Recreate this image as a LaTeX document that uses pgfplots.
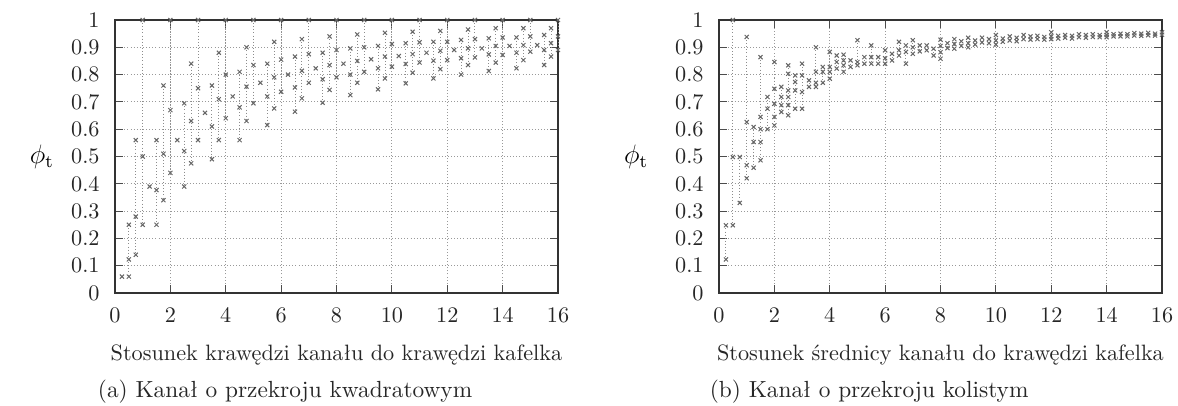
\documentclass[border=0pt]{standalone}
\usepackage{fontspec}
\usepackage{pgfplots}
\usepackage{pgfplotstable}
\pgfplotsset{compat=1.18}

\pgfplotstableread{
x y
0.25 0.06
nan nan
0.5 0.25
0.5 0.123
0.5 0.06
nan nan
0.75 0.56
0.75 0.28
0.75 0.14
nan nan
1.0 1.0
1.0 0.50
1.0 0.25
nan nan
1.25 0.39
nan nan
1.5 0.56
1.5 0.377
1.5 0.25
nan nan
1.75 0.76
1.75 0.51
1.75 0.34
nan nan
2.0 1.0
2.0 0.67
2.0 0.44
nan nan
2.25 0.56
nan nan
2.5 0.695
2.5 0.52
2.5 0.39
nan nan
2.75 0.84
2.75 0.63
2.75 0.475
nan nan
3.0 1.0
3.0 0.75
3.0 0.56
nan nan
3.25 0.66
nan nan
3.5 0.76
3.5 0.61
3.5 0.49
nan nan
3.75 0.88
3.75 0.71
3.75 0.56
nan nan
4.0 1.0
4.0 0.80
4.0 0.64
nan nan
4.25 0.72
nan nan
4.5 0.81
4.5 0.68
4.5 0.56
nan nan
4.75 0.90
4.75 0.756
4.75 0.63
nan nan
5.0 1.0
5.0 0.835
5.0 0.695
nan nan
5.25 0.77
nan nan
5.5 0.84
5.5 0.72
5.5 0.615
nan nan
5.75 0.92
5.75 0.79
5.75 0.676
nan nan
6.0 1.0
6.0 0.855
6.0 0.737
nan nan
6.25 0.80
nan nan
6.5 0.866
6.5 0.753
6.5 0.664
nan nan
6.75 0.93
6.75 0.814
6.75 0.713
nan nan
7.0 1.0
7.0 0.875
7.0 0.77
nan nan
7.25 0.823
nan nan
7.5 0.88
7.5 0.783
7.5 0.697
nan nan
7.75 0.94
7.75 0.835
7.75 0.744
nan nan
8.0 1.0
8.0 0.89
8.0 0.79
nan nan
8.25 0.84
nan nan
8.5 0.896
8.5 0.80
8.5 0.725
nan nan
8.75 0.947
8.75 0.85
8.75 0.77
nan nan
9.0 1.0
9.0 0.90
9.0 0.81
nan nan
9.25 0.856
nan nan
9.5 0.905
9.5 0.823
9.5 0.746
nan nan
9.75 0.953
9.75 0.866
9.75 0.786
nan nan
10.0 1.0
10.0 0.912
10.0 0.829
nan nan
10.25 0.868
nan nan
10.5 0.915
10.5 0.839
10.5 0.768
nan nan
10.75 0.957
10.75 0.875
10.75 0.807
nan nan
11.0 1.0
11.0 0.918
11.0 0.844
nan nan
11.25 0.88
nan nan
11.5 0.92
11.5 0.851
11.5 0.786
nan nan
11.75 0.96
11.75 0.887
11.75 0.82
nan nan
12.0 1.0
12.0 0.92
12.0 0.853
nan nan
12.25 0.89
nan nan
12.5 0.927
12.5 0.86
12.5 0.80
nan nan
12.75 0.965
12.75 0.896
12.75 0.835
nan nan
13.0 1.0
13.0 0.93
13.0 0.863
nan nan
13.25 0.896
nan nan
13.5 0.933
13.5 0.874
13.5 0.813
nan nan
13.75 0.97
13.75 0.905
13.75 0.844
nan nan
14.0 1.0
14.0 0.936
14.0 0.872
nan nan
14.25 0.905
nan nan
14.5 0.936
14.5 0.88
14.5 0.823
nan nan
14.75 0.97
14.75 0.908
14.75 0.853
nan nan
15.0 1.0
15.0 0.94
15.0 0.884
nan nan
15.25 0.908
nan nan
15.5 0.945
15.5 0.89
15.5 0.835
nan nan
15.75 0.97
15.75 0.915
15.75 0.866
nan nan
16.0 1.0
16.0 0.94
16.0 0.89
}\dataA

\pgfplotstableread{
x y
0.25 0.248
0.25 0.123
nan nan
0.5 1.0
0.5 0.498
0.5 0.248
nan nan
0.75 0.498
0.75 0.33
nan nan
1.0 0.938
1.0 0.626
1.0 0.468
1.0 0.42
nan nan
1.25 0.608
1.25 0.553
1.25 0.459
nan nan
1.5 0.864
1.5 0.645
1.5 0.60
1.5 0.553
1.5 0.486
nan nan
1.75 0.718
1.75 0.675
1.75 0.60
nan nan
2.0 0.846
2.0 0.748
2.0 0.693
2.0 0.645
2.0 0.614
nan nan
2.25 0.755
2.25 0.718
2.25 0.688
2.25 0.663
nan nan
2.5 0.834
2.5 0.803
2.5 0.742
2.5 0.718
2.5 0.688
2.5 0.651
nan nan
2.75 0.797
2.75 0.773
2.75 0.742
2.75 0.675
nan nan
3.0 0.84
3.0 0.797
3.0 0.736
3.0 0.675
nan nan
3.25 0.779
3.25 0.755
nan nan
3.5 0.90
3.5 0.81
3.5 0.77
3.5 0.755
nan nan
3.75 0.828
3.75 0.81
3.75 0.77
nan nan
4.0 0.883
4.0 0.828
4.0 0.81
4.0 0.785
nan nan
4.25 0.87
4.25 0.846
4.25 0.822
nan nan
4.5 0.873
4.5 0.852
4.5 0.834
4.5 0.81
nan nan
4.75 0.852
4.75 0.828
nan nan
5.0 0.926
5.0 0.846
5.0 0.834
nan nan
5.25 0.864
5.25 0.84
nan nan
5.5 0.907
5.5 0.864
5.5 0.84
nan nan
5.75 0.864
5.75 0.84
nan nan
6.0 0.889
6.0 0.86
6.0 0.84
nan nan
6.25 0.876
6.25 0.852
nan nan
6.5 0.92
6.5 0.889
6.5 0.87
nan nan
6.75 0.907
6.75 0.883
6.75 0.84
nan nan
7.0 0.926
7.0 0.90
7.0 0.876
nan nan
7.25 0.907
7.25 0.885
nan nan
7.5 0.907
7.5 0.889
nan nan
7.75 0.895
7.75 0.87
nan nan
8.0 0.928
8.0 0.905
8.0 0.882
8.0 0.858
nan nan
8.25 0.915
8.25 0.897
nan nan
8.5 0.93
8.5 0.912
8.5 0.895
nan nan
8.75 0.922
8.75 0.905
nan nan
9.0 0.935
9.0 0.915
9.0 0.90
nan nan
9.25 0.925
9.25 0.91
nan nan
9.5 0.935
9.5 0.918
nan nan
9.75 0.93
9.75 0.915
nan nan
10.0 0.945
10.0 0.925
10.0 0.91
nan nan
10.25 0.932
10.25 0.92
nan nan
10.5 0.94
10.5 0.925
nan nan
10.75 0.935
10.75 0.922
nan nan
11.0 0.945
11.0 0.93
nan nan
11.25 0.94
11.25 0.928
nan nan
11.5 0.942
11.5 0.93
nan nan
11.75 0.938
11.75 0.928
nan nan
12.0 0.955
12.0 0.94
12.0 0.93
nan nan
12.25 0.942
12.25 0.932
nan nan
12.5 0.945
12.5 0.935
nan nan
12.75 0.942
12.75 0.932
nan nan
13.0 0.948
13.0 0.937
nan nan
13.25 0.945
13.25 0.935
nan nan
13.5 0.948
13.5 0.938
nan nan
13.75 0.945
13.75 0.937
nan nan
14.0 0.955
14.0 0.945
14.0 0.937
nan nan
14.25 0.948
14.25 0.94
nan nan
14.5 0.95
14.5 0.94
nan nan
14.75 0.948
14.75 0.94
nan nan
15.0 0.952
15.0 0.943
nan nan
15.25 0.95
15.25 0.942
nan nan
15.5 0.953
15.5 0.944
nan nan
15.75 0.95
15.75 0.943
nan nan
16.0 0.955
16.0 0.946
}\dataB

\pgfplotsset{
  myaxis/.style={
    scale only axis,
    width=199.35pt, height=122.85pt,
    anchor=south west,
    xmin=0, xmax=16, ymin=0, ymax=1,
    xtick={0,2,...,16},
    ytick={0,0.1,...,1.0},
    yticklabels={0,0.1,0.2,0.3,0.4,0.5,0.6,0.7,0.8,0.9,1},
    tick align=inside,
    major tick length=3.6pt,
    axis line style={black!80, line width=0.6pt},
    tick style={black!70, line width=0.4pt},
    grid=major,
    grid style={densely dotted, black!40, line width=0.4pt},
    yticklabel style={xshift=-3.4pt},
    xticklabel style={yshift=-3.4pt},
    every axis x label/.style={at={(axis description cs:0.5,-0.227)}, anchor=center},
    unbounded coords=jump,
    clip=false,
    tick label style={black!85},
    label style={black!85},
  },
  mydata/.style={densely dotted, black!45, line width=0.4pt,
    mark=x, mark size=1.3pt, mark options={solid, black!60, line width=0.45pt}},
}

\begin{document}
\begin{tikzpicture}
\useasboundingbox (0,0) rectangle (530.1pt,182.25pt);
\begin{axis}[myaxis, at={(51.75pt,50.4pt)},
  xlabel={Stosunek krawędzi kanału do krawędzi kafelka},
  ylabel={\large$\phi_{\mathrm{t}}$},
  every axis y label/.style={at={(axis description cs:-0.165,0.5)}, anchor=center},
]
\addplot[mydata] table[x=x,y=y] {\dataA};
\node[black!85, font=\fontsize{10.5}{12}\selectfont] at (axis description cs:0.384,-0.3626) {(a) Kanał o przekroju kwadratowym};
\end{axis}
\begin{axis}[myaxis, at={(323.55pt,50.4pt)},
  xlabel={Stosunek średnicy kanału do krawędzi kafelka},
  ylabel={\large$\phi_{\mathrm{t}}$},
  every axis y label/.style={at={(axis description cs:-0.187,0.5)}, anchor=center},
]
\addplot[mydata] table[x=x,y=y] {\dataB};
\node[black!85, font=\fontsize{10.5}{12}\selectfont] at (axis description cs:0.339,-0.3626) {(b) Kanał o przekroju kolistym};
\end{axis}
\end{tikzpicture}
\end{document}
